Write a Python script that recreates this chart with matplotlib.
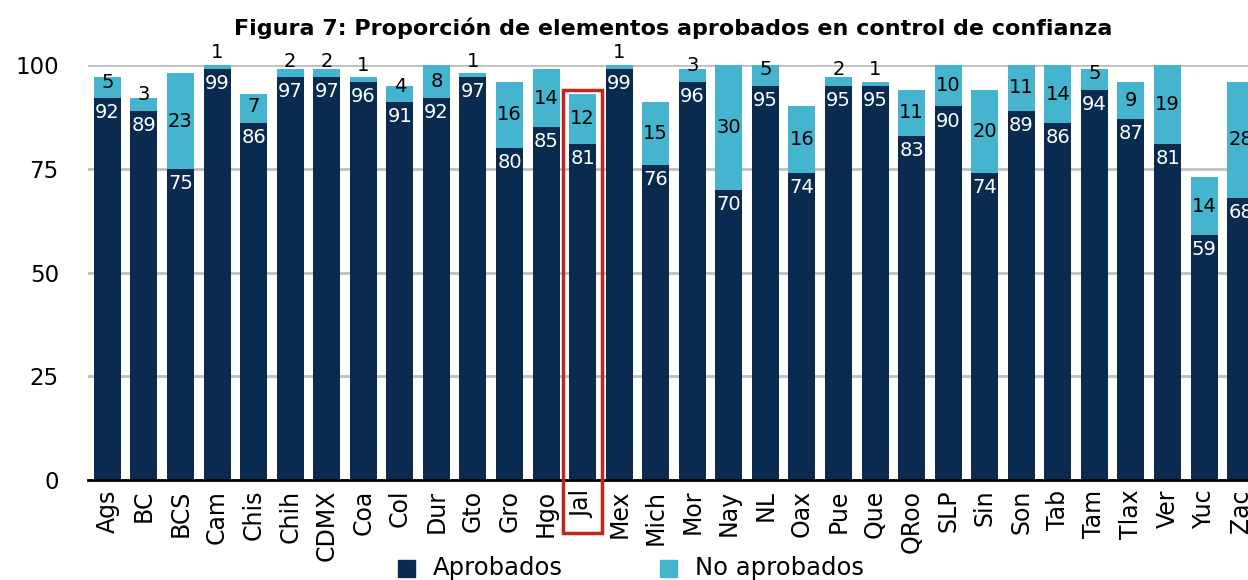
import matplotlib.pyplot as plt
from matplotlib.patches import Rectangle
import numpy as np

estados = ['Ags', 'BC', 'BCS', 'Cam', 'Chis', 'Chih', 'CDMX', 'Coa', 'Col', 'Dur',
           'Gto', 'Gro', 'Hgo', 'Jal', 'Mex', 'Mich', 'Mor', 'Nay', 'NL', 'Oax',
           'Pue', 'Que', 'QRoo', 'SLP', 'Sin', 'Son', 'Tab', 'Tam', 'Tlax', 'Ver',
           'Yuc', 'Zac']
aprobados = [92, 89, 75, 99, 86, 97, 97, 96, 91, 92,
             97, 80, 85, 81, 99, 76, 96, 70, 95, 74,
             95, 95, 83, 90, 74, 89, 86, 94, 87, 81,
             59, 68]
no_aprobados = [5, 3, 23, 1, 7, 2, 2, 1, 4, 8,
                1, 16, 14, 12, 1, 15, 3, 30, 5, 16,
                2, 1, 11, 10, 20, 11, 14, 5, 9, 19,
                14, 28]
series = ['Aprobados', 'No aprobados']
resaltado = 'Jal'

dark = '#0a2b50'
light = '#44b4cf'
red = '#c0281b'

plt.rcParams['font.family'] = ['DejaVu Sans']

fig = plt.figure(figsize=(12.48, 5.8), dpi=100)
ax = fig.add_axes([88 / 1248, 100 / 580, 1172 / 1248, 415 / 580])

x = np.arange(len(estados))
ap = np.array(aprobados)
na = np.array(no_aprobados)

ax.bar(x, ap, width=0.74, color=dark, zorder=3)
ax.bar(x, na, bottom=ap, width=0.74, color=light, zorder=3)

for i in range(len(x)):
    ax.text(x[i], ap[i] - 3.5, str(ap[i]), ha='center', va='center',
            color='white', fontsize=14, zorder=4)
    # etiqueta del segmento claro: al centro, o encima si no cabe
    ypos = max(ap[i] + na[i] / 2, ap[i] + 3.9)
    ax.text(x[i], ypos, str(na[i]), ha='center', va='center',
            color='black', fontsize=14, zorder=4, clip_on=False)

ax.set_xlim(-0.53, len(x) - 1 + 0.53)
ax.set_ylim(0, 100)
ax.set_yticks([0, 25, 50, 75, 100])
ax.tick_params(axis='y', length=0, pad=21, labelsize=16.5)
ax.set_xticks(x)
ax.set_xticklabels(estados, rotation=90, fontsize=17)
ax.tick_params(axis='x', length=0, pad=7)
ax.grid(axis='y', color='#bfbfbf', linewidth=2, zorder=0)
for s in ['top', 'right', 'left']:
    ax.spines[s].set_visible(False)
ax.spines['bottom'].set_linewidth(2)
ax.spines['bottom'].set_zorder(5)

# recuadro rojo alrededor del estado resaltado
j = estados.index(resaltado)
rect = Rectangle((j - 0.53, -12.8), 1.06, ap[j] + na[j] + 1 + 12.8,
                 fill=False, edgecolor=red, linewidth=2.5, clip_on=False, zorder=6)
ax.add_patch(rect)

fig.text(673 / 1248, 1 - 28 / 580,
         'Figura 7: Proporción de elementos aprobados en control de confianza',
         ha='center', va='center', fontsize=16, fontweight='bold')

# leyenda manual
for col, lab, x0 in [(dark, series[0], 398), (light, series[1], 660)]:
    fig.patches.append(Rectangle((x0 / 1248, 3 / 580), 17 / 1248, 17 / 580,
                                 transform=fig.transFigure, color=col))
    fig.text((x0 + 35) / 1248, 1 - 568 / 580, lab, ha='left', va='center', fontsize=17.5)

fig.savefig('out.png', dpi=100)
